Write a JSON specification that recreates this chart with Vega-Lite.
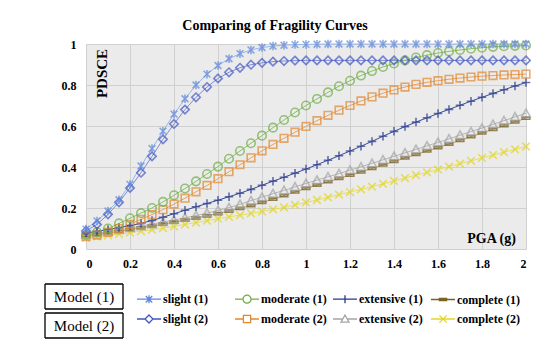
{
"$schema": "https://vega.github.io/schema/vega-lite/v6.json",
"width": 440, "height": 205,
"autosize": {"type": "none"},
"padding": {"left": 86, "top": 44, "right": 24, "bottom": 105},
"background": "white",
"title": {"text": "Comparing of Fragility Curves", "font": "Liberation Serif", "fontSize": 14, "fontWeight": "bold", "color": "black", "anchor": "middle", "frame": "group", "dx": -31, "offset": 4},
"config": {
  "font": "Liberation Serif",
  "view": {"stroke": null, "fill": "#ebebeb"},
  "axis": {"labelFont": "Liberation Serif", "labelFontWeight": "bold", "labelFontSize": 12, "labelColor": "black", "grid": true, "gridColor": "#d0d0d0", "gridWidth": 1, "domain": false, "ticks": false, "titleFont": "Liberation Serif", "titleFontWeight": "bold", "titleColor": "black"},
  "legend": {"labelFont": "Liberation Serif", "labelColor": "black"}
},
"datasets": {
"models": [{"model": "Model (1)"}, {"model": "Model (2)"}],
"curves": [
{"series":"slight (1)","pga":0,"pdsce":0.097},{"series":"slight (1)","pga":0.05,"pdsce":0.137},{"series":"slight (1)","pga":0.1,"pdsce":0.185},{"series":"slight (1)","pga":0.15,"pdsce":0.24},{"series":"slight (1)","pga":0.2,"pdsce":0.315},{"series":"slight (1)","pga":0.25,"pdsce":0.405},{"series":"slight (1)","pga":0.3,"pdsce":0.49},{"series":"slight (1)","pga":0.35,"pdsce":0.575},{"series":"slight (1)","pga":0.4,"pdsce":0.658},{"series":"slight (1)","pga":0.45,"pdsce":0.733},{"series":"slight (1)","pga":0.5,"pdsce":0.8},{"series":"slight (1)","pga":0.55,"pdsce":0.853},{"series":"slight (1)","pga":0.6,"pdsce":0.895},{"series":"slight (1)","pga":0.65,"pdsce":0.928},{"series":"slight (1)","pga":0.7,"pdsce":0.953},{"series":"slight (1)","pga":0.75,"pdsce":0.971},{"series":"slight (1)","pga":0.8,"pdsce":0.983},{"series":"slight (1)","pga":0.85,"pdsce":0.99},{"series":"slight (1)","pga":0.9,"pdsce":0.994},{"series":"slight (1)","pga":0.95,"pdsce":0.997},{"series":"slight (1)","pga":1,"pdsce":0.998},{"series":"slight (1)","pga":1.05,"pdsce":0.999},{"series":"slight (1)","pga":1.1,"pdsce":1},{"series":"slight (1)","pga":1.15,"pdsce":1},{"series":"slight (1)","pga":1.2,"pdsce":1},{"series":"slight (1)","pga":1.25,"pdsce":1},{"series":"slight (1)","pga":1.3,"pdsce":1},{"series":"slight (1)","pga":1.35,"pdsce":1},{"series":"slight (1)","pga":1.4,"pdsce":1},{"series":"slight (1)","pga":1.45,"pdsce":1},{"series":"slight (1)","pga":1.5,"pdsce":1},{"series":"slight (1)","pga":1.55,"pdsce":1},{"series":"slight (1)","pga":1.6,"pdsce":1},{"series":"slight (1)","pga":1.65,"pdsce":1},{"series":"slight (1)","pga":1.7,"pdsce":1},{"series":"slight (1)","pga":1.75,"pdsce":1},{"series":"slight (1)","pga":1.8,"pdsce":1},{"series":"slight (1)","pga":1.85,"pdsce":1},{"series":"slight (1)","pga":1.9,"pdsce":1},{"series":"slight (1)","pga":1.95,"pdsce":1},{"series":"slight (1)","pga":2,"pdsce":1},
{"series":"slight (2)","pga":0,"pdsce":0.088},{"series":"slight (2)","pga":0.05,"pdsce":0.12},{"series":"slight (2)","pga":0.1,"pdsce":0.169},{"series":"slight (2)","pga":0.15,"pdsce":0.228},{"series":"slight (2)","pga":0.2,"pdsce":0.298},{"series":"slight (2)","pga":0.25,"pdsce":0.372},{"series":"slight (2)","pga":0.3,"pdsce":0.452},{"series":"slight (2)","pga":0.35,"pdsce":0.535},{"series":"slight (2)","pga":0.4,"pdsce":0.61},{"series":"slight (2)","pga":0.45,"pdsce":0.68},{"series":"slight (2)","pga":0.5,"pdsce":0.74},{"series":"slight (2)","pga":0.55,"pdsce":0.79},{"series":"slight (2)","pga":0.6,"pdsce":0.832},{"series":"slight (2)","pga":0.65,"pdsce":0.862},{"series":"slight (2)","pga":0.7,"pdsce":0.884},{"series":"slight (2)","pga":0.75,"pdsce":0.899},{"series":"slight (2)","pga":0.8,"pdsce":0.908},{"series":"slight (2)","pga":0.85,"pdsce":0.914},{"series":"slight (2)","pga":0.9,"pdsce":0.917},{"series":"slight (2)","pga":0.95,"pdsce":0.919},{"series":"slight (2)","pga":1,"pdsce":0.92},{"series":"slight (2)","pga":1.05,"pdsce":0.92},{"series":"slight (2)","pga":1.1,"pdsce":0.92},{"series":"slight (2)","pga":1.15,"pdsce":0.92},{"series":"slight (2)","pga":1.2,"pdsce":0.92},{"series":"slight (2)","pga":1.25,"pdsce":0.92},{"series":"slight (2)","pga":1.3,"pdsce":0.92},{"series":"slight (2)","pga":1.35,"pdsce":0.92},{"series":"slight (2)","pga":1.4,"pdsce":0.92},{"series":"slight (2)","pga":1.45,"pdsce":0.92},{"series":"slight (2)","pga":1.5,"pdsce":0.92},{"series":"slight (2)","pga":1.55,"pdsce":0.92},{"series":"slight (2)","pga":1.6,"pdsce":0.92},{"series":"slight (2)","pga":1.65,"pdsce":0.92},{"series":"slight (2)","pga":1.7,"pdsce":0.92},{"series":"slight (2)","pga":1.75,"pdsce":0.92},{"series":"slight (2)","pga":1.8,"pdsce":0.92},{"series":"slight (2)","pga":1.85,"pdsce":0.92},{"series":"slight (2)","pga":1.9,"pdsce":0.92},{"series":"slight (2)","pga":1.95,"pdsce":0.92},{"series":"slight (2)","pga":2,"pdsce":0.92},
{"series":"moderate (1)","pga":0,"pdsce":0.068},{"series":"moderate (1)","pga":0.05,"pdsce":0.082},{"series":"moderate (1)","pga":0.1,"pdsce":0.1},{"series":"moderate (1)","pga":0.15,"pdsce":0.125},{"series":"moderate (1)","pga":0.2,"pdsce":0.15},{"series":"moderate (1)","pga":0.25,"pdsce":0.175},{"series":"moderate (1)","pga":0.3,"pdsce":0.2},{"series":"moderate (1)","pga":0.35,"pdsce":0.23},{"series":"moderate (1)","pga":0.4,"pdsce":0.262},{"series":"moderate (1)","pga":0.45,"pdsce":0.295},{"series":"moderate (1)","pga":0.5,"pdsce":0.33},{"series":"moderate (1)","pga":0.55,"pdsce":0.366},{"series":"moderate (1)","pga":0.6,"pdsce":0.402},{"series":"moderate (1)","pga":0.65,"pdsce":0.44},{"series":"moderate (1)","pga":0.7,"pdsce":0.478},{"series":"moderate (1)","pga":0.75,"pdsce":0.516},{"series":"moderate (1)","pga":0.8,"pdsce":0.553},{"series":"moderate (1)","pga":0.85,"pdsce":0.592},{"series":"moderate (1)","pga":0.9,"pdsce":0.629},{"series":"moderate (1)","pga":0.95,"pdsce":0.666},{"series":"moderate (1)","pga":1,"pdsce":0.7},{"series":"moderate (1)","pga":1.05,"pdsce":0.732},{"series":"moderate (1)","pga":1.1,"pdsce":0.764},{"series":"moderate (1)","pga":1.15,"pdsce":0.794},{"series":"moderate (1)","pga":1.2,"pdsce":0.821},{"series":"moderate (1)","pga":1.25,"pdsce":0.846},{"series":"moderate (1)","pga":1.3,"pdsce":0.868},{"series":"moderate (1)","pga":1.35,"pdsce":0.888},{"series":"moderate (1)","pga":1.4,"pdsce":0.905},{"series":"moderate (1)","pga":1.45,"pdsce":0.92},{"series":"moderate (1)","pga":1.5,"pdsce":0.934},{"series":"moderate (1)","pga":1.55,"pdsce":0.946},{"series":"moderate (1)","pga":1.6,"pdsce":0.956},{"series":"moderate (1)","pga":1.65,"pdsce":0.964},{"series":"moderate (1)","pga":1.7,"pdsce":0.971},{"series":"moderate (1)","pga":1.75,"pdsce":0.977},{"series":"moderate (1)","pga":1.8,"pdsce":0.982},{"series":"moderate (1)","pga":1.85,"pdsce":0.986},{"series":"moderate (1)","pga":1.9,"pdsce":0.989},{"series":"moderate (1)","pga":1.95,"pdsce":0.991},{"series":"moderate (1)","pga":2,"pdsce":0.993},
{"series":"moderate (2)","pga":0,"pdsce":0.06},{"series":"moderate (2)","pga":0.05,"pdsce":0.068},{"series":"moderate (2)","pga":0.1,"pdsce":0.081},{"series":"moderate (2)","pga":0.15,"pdsce":0.1},{"series":"moderate (2)","pga":0.2,"pdsce":0.12},{"series":"moderate (2)","pga":0.25,"pdsce":0.145},{"series":"moderate (2)","pga":0.3,"pdsce":0.168},{"series":"moderate (2)","pga":0.35,"pdsce":0.192},{"series":"moderate (2)","pga":0.4,"pdsce":0.219},{"series":"moderate (2)","pga":0.45,"pdsce":0.248},{"series":"moderate (2)","pga":0.5,"pdsce":0.279},{"series":"moderate (2)","pga":0.55,"pdsce":0.31},{"series":"moderate (2)","pga":0.6,"pdsce":0.343},{"series":"moderate (2)","pga":0.65,"pdsce":0.377},{"series":"moderate (2)","pga":0.7,"pdsce":0.411},{"series":"moderate (2)","pga":0.75,"pdsce":0.445},{"series":"moderate (2)","pga":0.8,"pdsce":0.479},{"series":"moderate (2)","pga":0.85,"pdsce":0.51},{"series":"moderate (2)","pga":0.9,"pdsce":0.54},{"series":"moderate (2)","pga":0.95,"pdsce":0.57},{"series":"moderate (2)","pga":1,"pdsce":0.598},{"series":"moderate (2)","pga":1.05,"pdsce":0.626},{"series":"moderate (2)","pga":1.1,"pdsce":0.652},{"series":"moderate (2)","pga":1.15,"pdsce":0.677},{"series":"moderate (2)","pga":1.2,"pdsce":0.7},{"series":"moderate (2)","pga":1.25,"pdsce":0.722},{"series":"moderate (2)","pga":1.3,"pdsce":0.742},{"series":"moderate (2)","pga":1.35,"pdsce":0.76},{"series":"moderate (2)","pga":1.4,"pdsce":0.776},{"series":"moderate (2)","pga":1.45,"pdsce":0.79},{"series":"moderate (2)","pga":1.5,"pdsce":0.803},{"series":"moderate (2)","pga":1.55,"pdsce":0.813},{"series":"moderate (2)","pga":1.6,"pdsce":0.821},{"series":"moderate (2)","pga":1.65,"pdsce":0.828},{"series":"moderate (2)","pga":1.7,"pdsce":0.834},{"series":"moderate (2)","pga":1.75,"pdsce":0.839},{"series":"moderate (2)","pga":1.8,"pdsce":0.843},{"series":"moderate (2)","pga":1.85,"pdsce":0.846},{"series":"moderate (2)","pga":1.9,"pdsce":0.849},{"series":"moderate (2)","pga":1.95,"pdsce":0.851},{"series":"moderate (2)","pga":2,"pdsce":0.853},
{"series":"extensive (1)","pga":0,"pdsce":0.078},{"series":"extensive (1)","pga":0.05,"pdsce":0.086},{"series":"extensive (1)","pga":0.1,"pdsce":0.095},{"series":"extensive (1)","pga":0.15,"pdsce":0.104},{"series":"extensive (1)","pga":0.2,"pdsce":0.114},{"series":"extensive (1)","pga":0.25,"pdsce":0.125},{"series":"extensive (1)","pga":0.3,"pdsce":0.139},{"series":"extensive (1)","pga":0.35,"pdsce":0.155},{"series":"extensive (1)","pga":0.4,"pdsce":0.172},{"series":"extensive (1)","pga":0.45,"pdsce":0.189},{"series":"extensive (1)","pga":0.5,"pdsce":0.206},{"series":"extensive (1)","pga":0.55,"pdsce":0.222},{"series":"extensive (1)","pga":0.6,"pdsce":0.238},{"series":"extensive (1)","pga":0.65,"pdsce":0.255},{"series":"extensive (1)","pga":0.7,"pdsce":0.272},{"series":"extensive (1)","pga":0.75,"pdsce":0.291},{"series":"extensive (1)","pga":0.8,"pdsce":0.311},{"series":"extensive (1)","pga":0.85,"pdsce":0.331},{"series":"extensive (1)","pga":0.9,"pdsce":0.35},{"series":"extensive (1)","pga":0.95,"pdsce":0.37},{"series":"extensive (1)","pga":1,"pdsce":0.39},{"series":"extensive (1)","pga":1.05,"pdsce":0.411},{"series":"extensive (1)","pga":1.1,"pdsce":0.433},{"series":"extensive (1)","pga":1.15,"pdsce":0.455},{"series":"extensive (1)","pga":1.2,"pdsce":0.478},{"series":"extensive (1)","pga":1.25,"pdsce":0.501},{"series":"extensive (1)","pga":1.3,"pdsce":0.525},{"series":"extensive (1)","pga":1.35,"pdsce":0.55},{"series":"extensive (1)","pga":1.4,"pdsce":0.574},{"series":"extensive (1)","pga":1.45,"pdsce":0.597},{"series":"extensive (1)","pga":1.5,"pdsce":0.619},{"series":"extensive (1)","pga":1.55,"pdsce":0.64},{"series":"extensive (1)","pga":1.6,"pdsce":0.661},{"series":"extensive (1)","pga":1.65,"pdsce":0.681},{"series":"extensive (1)","pga":1.7,"pdsce":0.701},{"series":"extensive (1)","pga":1.75,"pdsce":0.721},{"series":"extensive (1)","pga":1.8,"pdsce":0.74},{"series":"extensive (1)","pga":1.85,"pdsce":0.759},{"series":"extensive (1)","pga":1.9,"pdsce":0.777},{"series":"extensive (1)","pga":1.95,"pdsce":0.795},{"series":"extensive (1)","pga":2,"pdsce":0.812},
{"series":"extensive (2)","pga":0,"pdsce":0.07},{"series":"extensive (2)","pga":0.05,"pdsce":0.077},{"series":"extensive (2)","pga":0.1,"pdsce":0.085},{"series":"extensive (2)","pga":0.15,"pdsce":0.093},{"series":"extensive (2)","pga":0.2,"pdsce":0.102},{"series":"extensive (2)","pga":0.25,"pdsce":0.111},{"series":"extensive (2)","pga":0.3,"pdsce":0.121},{"series":"extensive (2)","pga":0.35,"pdsce":0.131},{"series":"extensive (2)","pga":0.4,"pdsce":0.141},{"series":"extensive (2)","pga":0.45,"pdsce":0.152},{"series":"extensive (2)","pga":0.5,"pdsce":0.163},{"series":"extensive (2)","pga":0.55,"pdsce":0.175},{"series":"extensive (2)","pga":0.6,"pdsce":0.188},{"series":"extensive (2)","pga":0.65,"pdsce":0.202},{"series":"extensive (2)","pga":0.7,"pdsce":0.218},{"series":"extensive (2)","pga":0.75,"pdsce":0.236},{"series":"extensive (2)","pga":0.8,"pdsce":0.253},{"series":"extensive (2)","pga":0.85,"pdsce":0.27},{"series":"extensive (2)","pga":0.9,"pdsce":0.286},{"series":"extensive (2)","pga":0.95,"pdsce":0.303},{"series":"extensive (2)","pga":1,"pdsce":0.32},{"series":"extensive (2)","pga":1.05,"pdsce":0.336},{"series":"extensive (2)","pga":1.1,"pdsce":0.352},{"series":"extensive (2)","pga":1.15,"pdsce":0.368},{"series":"extensive (2)","pga":1.2,"pdsce":0.385},{"series":"extensive (2)","pga":1.25,"pdsce":0.401},{"series":"extensive (2)","pga":1.3,"pdsce":0.418},{"series":"extensive (2)","pga":1.35,"pdsce":0.435},{"series":"extensive (2)","pga":1.4,"pdsce":0.452},{"series":"extensive (2)","pga":1.45,"pdsce":0.469},{"series":"extensive (2)","pga":1.5,"pdsce":0.486},{"series":"extensive (2)","pga":1.55,"pdsce":0.503},{"series":"extensive (2)","pga":1.6,"pdsce":0.52},{"series":"extensive (2)","pga":1.65,"pdsce":0.537},{"series":"extensive (2)","pga":1.7,"pdsce":0.555},{"series":"extensive (2)","pga":1.75,"pdsce":0.573},{"series":"extensive (2)","pga":1.8,"pdsce":0.59},{"series":"extensive (2)","pga":1.85,"pdsce":0.608},{"series":"extensive (2)","pga":1.9,"pdsce":0.626},{"series":"extensive (2)","pga":1.95,"pdsce":0.644},{"series":"extensive (2)","pga":2,"pdsce":0.662},
{"series":"complete (1)","pga":0,"pdsce":0.065},{"series":"complete (1)","pga":0.05,"pdsce":0.071},{"series":"complete (1)","pga":0.1,"pdsce":0.078},{"series":"complete (1)","pga":0.15,"pdsce":0.086},{"series":"complete (1)","pga":0.2,"pdsce":0.094},{"series":"complete (1)","pga":0.25,"pdsce":0.103},{"series":"complete (1)","pga":0.3,"pdsce":0.112},{"series":"complete (1)","pga":0.35,"pdsce":0.121},{"series":"complete (1)","pga":0.4,"pdsce":0.131},{"series":"complete (1)","pga":0.45,"pdsce":0.141},{"series":"complete (1)","pga":0.5,"pdsce":0.151},{"series":"complete (1)","pga":0.55,"pdsce":0.162},{"series":"complete (1)","pga":0.6,"pdsce":0.173},{"series":"complete (1)","pga":0.65,"pdsce":0.185},{"series":"complete (1)","pga":0.7,"pdsce":0.198},{"series":"complete (1)","pga":0.75,"pdsce":0.212},{"series":"complete (1)","pga":0.8,"pdsce":0.227},{"series":"complete (1)","pga":0.85,"pdsce":0.243},{"series":"complete (1)","pga":0.9,"pdsce":0.26},{"series":"complete (1)","pga":0.95,"pdsce":0.278},{"series":"complete (1)","pga":1,"pdsce":0.296},{"series":"complete (1)","pga":1.05,"pdsce":0.312},{"series":"complete (1)","pga":1.1,"pdsce":0.328},{"series":"complete (1)","pga":1.15,"pdsce":0.344},{"series":"complete (1)","pga":1.2,"pdsce":0.36},{"series":"complete (1)","pga":1.25,"pdsce":0.376},{"series":"complete (1)","pga":1.3,"pdsce":0.393},{"series":"complete (1)","pga":1.35,"pdsce":0.41},{"series":"complete (1)","pga":1.4,"pdsce":0.427},{"series":"complete (1)","pga":1.45,"pdsce":0.444},{"series":"complete (1)","pga":1.5,"pdsce":0.461},{"series":"complete (1)","pga":1.55,"pdsce":0.478},{"series":"complete (1)","pga":1.6,"pdsce":0.495},{"series":"complete (1)","pga":1.65,"pdsce":0.512},{"series":"complete (1)","pga":1.7,"pdsce":0.53},{"series":"complete (1)","pga":1.75,"pdsce":0.548},{"series":"complete (1)","pga":1.8,"pdsce":0.566},{"series":"complete (1)","pga":1.85,"pdsce":0.584},{"series":"complete (1)","pga":1.9,"pdsce":0.602},{"series":"complete (1)","pga":1.95,"pdsce":0.62},{"series":"complete (1)","pga":2,"pdsce":0.638},
{"series":"complete (2)","pga":0,"pdsce":0.055},{"series":"complete (2)","pga":0.05,"pdsce":0.061},{"series":"complete (2)","pga":0.1,"pdsce":0.067},{"series":"complete (2)","pga":0.15,"pdsce":0.073},{"series":"complete (2)","pga":0.2,"pdsce":0.08},{"series":"complete (2)","pga":0.25,"pdsce":0.087},{"series":"complete (2)","pga":0.3,"pdsce":0.094},{"series":"complete (2)","pga":0.35,"pdsce":0.102},{"series":"complete (2)","pga":0.4,"pdsce":0.11},{"series":"complete (2)","pga":0.45,"pdsce":0.12},{"series":"complete (2)","pga":0.5,"pdsce":0.129},{"series":"complete (2)","pga":0.55,"pdsce":0.138},{"series":"complete (2)","pga":0.6,"pdsce":0.148},{"series":"complete (2)","pga":0.65,"pdsce":0.157},{"series":"complete (2)","pga":0.7,"pdsce":0.165},{"series":"complete (2)","pga":0.75,"pdsce":0.174},{"series":"complete (2)","pga":0.8,"pdsce":0.183},{"series":"complete (2)","pga":0.85,"pdsce":0.193},{"series":"complete (2)","pga":0.9,"pdsce":0.203},{"series":"complete (2)","pga":0.95,"pdsce":0.215},{"series":"complete (2)","pga":1,"pdsce":0.227},{"series":"complete (2)","pga":1.05,"pdsce":0.239},{"series":"complete (2)","pga":1.1,"pdsce":0.252},{"series":"complete (2)","pga":1.15,"pdsce":0.265},{"series":"complete (2)","pga":1.2,"pdsce":0.278},{"series":"complete (2)","pga":1.25,"pdsce":0.291},{"series":"complete (2)","pga":1.3,"pdsce":0.304},{"series":"complete (2)","pga":1.35,"pdsce":0.318},{"series":"complete (2)","pga":1.4,"pdsce":0.332},{"series":"complete (2)","pga":1.45,"pdsce":0.346},{"series":"complete (2)","pga":1.5,"pdsce":0.36},{"series":"complete (2)","pga":1.55,"pdsce":0.374},{"series":"complete (2)","pga":1.6,"pdsce":0.388},{"series":"complete (2)","pga":1.65,"pdsce":0.402},{"series":"complete (2)","pga":1.7,"pdsce":0.416},{"series":"complete (2)","pga":1.75,"pdsce":0.43},{"series":"complete (2)","pga":1.8,"pdsce":0.444},{"series":"complete (2)","pga":1.85,"pdsce":0.458},{"series":"complete (2)","pga":1.9,"pdsce":0.472},{"series":"complete (2)","pga":1.95,"pdsce":0.486},{"series":"complete (2)","pga":2,"pdsce":0.5}
]},
"encoding": {
  "x": {"field": "pga", "type": "quantitative", "scale": {"domain": [0, 2], "nice": false}, "axis": {"values": [0, 0.2, 0.4, 0.6, 0.8, 1, 1.2, 1.4, 1.6, 1.8, 2], "format": "~g", "labelPadding": 9, "title": "PGA (g)", "titleX": 405, "titleY": -11, "titleAlign": "center", "titleBaseline": "middle", "titleFontSize": 14, "titleAngle": 0}},
  "y": {"field": "pdsce", "type": "quantitative", "scale": {"domain": [0, 1], "nice": false}, "axis": {"values": [0, 0.2, 0.4, 0.6, 0.8, 1], "format": "~g", "labelPadding": 10, "title": "PDSCE", "titleX": 15, "titleY": 29, "titleAngle": -90, "titleAlign": "center", "titleBaseline": "middle", "titleFontSize": 15}}
},
"layer": [
{
  "data": {"name": "curves"},
  "mark": {"type": "line", "strokeWidth": 1},
  "encoding": {
    "stroke": {"field": "series", "type": "nominal", "legend": null, "scale": {"range": ["#c3a263", "#e8df5a", "#3b4d99", "#b5b5b5", "#8cc068", "#e8a260", "#93b8ea", "#7d8bd6"]}},
    "order": {"field": "pga", "type": "quantitative"}
  }
},
{"data": {"name": "curves"}, "transform": [{"filter": {"field": "series", "equal": "complete (2)"}}], "mark": {"type": "point", "filled": false, "size": 72, "strokeWidth": 1.6, "color": "#e2d626", "shape": "M-0.9,-0.9L0.9,0.9M-0.9,0.9L0.9,-0.9"}},
{"data": {"name": "curves"}, "transform": [{"filter": {"field": "series", "equal": "complete (1)"}}], "mark": {"type": "point", "filled": false, "size": 72, "strokeWidth": 1.6, "color": "#6b5516", "shape": "M-0.9,-0.25H0.9V0.25H-0.9Z"}},
{"data": {"name": "curves"}, "transform": [{"filter": {"field": "series", "equal": "extensive (2)"}}], "mark": {"type": "point", "filled": false, "size": 72, "strokeWidth": 1.6, "color": "#a5a5a5", "shape": "M0,-1L1,0.8H-1Z"}},
{"data": {"name": "curves"}, "transform": [{"filter": {"field": "series", "equal": "extensive (1)"}}], "mark": {"type": "point", "filled": false, "size": 72, "strokeWidth": 1.6, "color": "#27398c", "shape": "M-1,0H1M0,-1V1"}},
{"data": {"name": "curves"}, "transform": [{"filter": {"field": "series", "equal": "moderate (2)"}}], "mark": {"type": "point", "filled": false, "size": 72, "strokeWidth": 1.6, "color": "#e0892f", "shape": "M-0.9,-0.9H0.9V0.9H-0.9Z"}},
{"data": {"name": "curves"}, "transform": [{"filter": {"field": "series", "equal": "moderate (1)"}}], "mark": {"type": "point", "filled": false, "size": 72, "strokeWidth": 1.6, "color": "#70ad47", "shape": "M1,0A1,1,0,1,1,-1,0A1,1,0,1,1,1,0Z"}},
{"data": {"name": "curves"}, "transform": [{"filter": {"field": "series", "equal": "slight (2)"}}], "mark": {"type": "point", "filled": false, "size": 72, "strokeWidth": 1.6, "color": "#4256c4", "shape": "M0,-1L1,0L0,1L-1,0Z"}},
{"data": {"name": "curves"}, "transform": [{"filter": {"field": "series", "equal": "slight (1)"}}], "mark": {"type": "point", "filled": false, "size": 72, "strokeWidth": 1.6, "color": "#5f86dc", "shape": "M-0.8,-0.8L0.8,0.8M-0.8,0.8L0.8,-0.8M0,-1V1"}},
{
  "data": {"name": "curves"},
  "mark": {"type": "point", "filled": false, "opacity": 0},
  "encoding": {
    "color": {"field": "series", "type": "nominal", "scale": {"domain": ["slight (1)", "moderate (1)", "extensive (1)", "complete (1)", "slight (2)", "moderate (2)", "extensive (2)", "complete (2)"], "range": ["#5f86dc", "#70ad47", "#27398c", "#7a6320", "#4256c4", "#e0892f", "#a5a5a5", "#e2d626"]},
      "legend": {"orient": "none", "legendX": 50, "legendY": 242, "direction": "horizontal", "columns": 4, "title": null, "labelFontSize": 12, "labelFontWeight": "bold", "labelFont": "Liberation Serif", "symbolSize": 576, "symbolStrokeWidth": 1.3, "labelOffset": 1, "columnPadding": 3, "rowPadding": -4, "gridAlign": "all", "padding": 0,
        "encode": {"symbols": {"update": {"opacity": {"value": 1}, "strokeWidth": {"value": 1.3}, "fill": {"value": "transparent"}}}}}},
    "shape": {"field": "series", "type": "nominal", "scale": {"domain": ["slight (1)", "moderate (1)", "extensive (1)", "complete (1)", "slight (2)", "moderate (2)", "extensive (2)", "complete (2)"], "range": ["M-1,0H1M-0.27,-0.27L0.27,0.27M-0.27,0.27L0.27,-0.27M0,-0.33V0.33", "M-1,0H-0.333M0.333,0H1M0.333,0A0.333,0.333,0,1,1,-0.333,0A0.333,0.333,0,1,1,0.333,0Z", "M-1,0H1M0,-0.333V0.333", "M-1,0H1M-0.3,-0.09H0.3V0.09H-0.3Z", "M-1,0H-0.333M0.333,0H1M0,-0.333L0.333,0L0,0.333L-0.333,0Z", "M-1,0H-0.3M0.3,0H1M-0.3,-0.3H0.3V0.3H-0.3Z", "M-1,0H-0.185M0.185,0H1M0,-0.333L0.333,0.267H-0.333Z", "M-1,0H1M-0.3,-0.3L0.3,0.3M-0.3,0.3L0.3,-0.3"]},
      "legend": {"orient": "none", "legendX": 50, "legendY": 242, "direction": "horizontal", "columns": 4, "title": null, "labelFontSize": 12, "labelFontWeight": "bold", "labelFont": "Liberation Serif", "symbolSize": 576, "symbolStrokeWidth": 1.3, "labelOffset": 1, "columnPadding": 3, "rowPadding": -4, "gridAlign": "all", "padding": 0,
        "encode": {"symbols": {"update": {"opacity": {"value": 1}, "strokeWidth": {"value": 1.3}, "fill": {"value": "transparent"}}}}}}
  }
},
{
  "data": {"name": "models"},
  "mark": {"type": "point", "opacity": 0},
  "encoding": {
    "x": {"value": 0},
    "y": {"value": 0},
    "strokeDash": {"field": "model", "type": "nominal", "scale": {"domain": ["Model (1)", "Model (2)"], "range": [[1, 0], [1, 0]]},
      "legend": {"orient": "none", "legendX": -15.5, "legendY": 239, "title": null, "symbolType": "M-3.12,-1H3.12V1H-3.12Z", "symbolSize": 625, "symbolStrokeColor": "black", "symbolFillColor": "transparent", "symbolStrokeWidth": 1.3, "labelFont": "Liberation Serif", "labelFontSize": 15, "labelFontWeight": "normal", "labelAlign": "center", "labelOffset": -13.5, "rowPadding": -4, "padding": 0,
        "encode": {"symbols": {"update": {"opacity": {"value": 1}, "stroke": {"value": "black"}, "fill": {"value": "transparent"}, "strokeWidth": {"value": 1.3}}}}}}
  }
}
]
}
